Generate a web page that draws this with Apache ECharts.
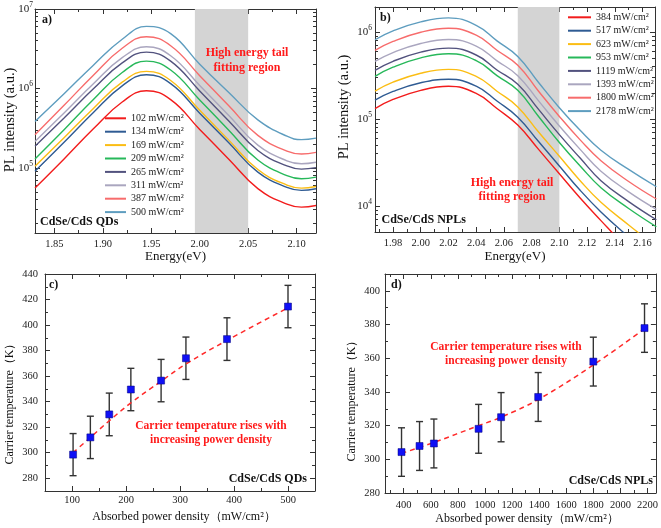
<!DOCTYPE html>
<html>
<head>
<meta charset="utf-8">
<script src="https://cdn.jsdelivr.net/npm/echarts@6/dist/echarts.min.js"></script>
<style>
html,body{margin:0;padding:0;background:#fff;}
#chart{width:661px;height:528px;}
</style>
</head>
<body>
<div id="chart"></div>
<script>
// ---------- Panel a: CdSe/CdS QDs PL spectra ----------
const qdEnergy = [1.83, 1.86, 1.89, 1.92, 1.945, 1.97, 2.00, 2.03, 2.06, 2.09, 2.105, 2.12];
const qdNames = ['102 mW/cm²', '134 mW/cm²', '169 mW/cm²', '209 mW/cm²', '265 mW/cm²', '311 mW/cm²', '387 mW/cm²', '500 mW/cm²'];
const qdPL102 = [5.60e4, 1.30e5, 3.09e5, 6.76e5, 9.38e5, 7.24e5, 3.05e5, 1.29e5, 5.50e4, 3.51e4, 3.22e4, 3.37e4];
const qdPL134 = [9.08e4, 2.10e5, 4.95e5, 1.08e6, 1.49e6, 1.15e6, 4.89e5, 2.07e5, 8.87e4, 5.69e4, 5.22e4, 5.47e4];
const qdPL169 = [1.05e5, 2.40e5, 5.57e5, 1.20e6, 1.64e6, 1.26e6, 5.32e5, 2.24e5, 9.55e4, 6.08e4, 5.58e4, 5.85e4];
const qdPL209 = [1.30e5, 3.03e5, 7.23e5, 1.59e6, 2.21e6, 1.71e6, 7.16e5, 2.99e5, 1.26e5, 8.00e4, 7.31e4, 7.66e4];
const qdPL265 = [1.87e5, 4.26e5, 9.84e5, 2.10e6, 2.87e6, 2.21e6, 9.31e5, 3.91e5, 1.66e5, 1.06e5, 9.68e4, 1.01e5];
const qdPL311 = [2.16e5, 4.93e5, 1.14e6, 2.44e6, 3.35e6, 2.58e6, 1.09e6, 4.57e5, 1.94e5, 1.23e5, 1.13e5, 1.18e5];
const qdPL387 = [2.62e5, 6.14e5, 1.46e6, 3.21e6, 4.48e6, 3.45e6, 1.45e6, 6.05e5, 2.57e5, 1.63e5, 1.50e5, 1.57e5];
const qdPL500 = [3.85e5, 8.57e5, 1.95e6, 4.17e6, 6.05e6, 4.90e6, 2.02e6, 8.91e5, 4.03e5, 2.51e5, 2.27e5, 2.37e5];
const qdShade = [1.995, 2.05];
const qdXTicks = [1.85, 1.90, 1.95, 2.00, 2.05, 2.10];
const qdXMinor = [1.875, 1.925, 1.975, 2.025, 2.075];
const qdYTicks = [1e5, 1e6, 1e7];
const qdYMinor = [2e4, 3e4, 4e4, 5e4, 6e4, 7e4, 8e4, 9e4, 2e5, 3e5, 4e5, 5e5, 6e5, 7e5, 8e5, 9e5, 2e6, 3e6, 4e6, 5e6, 6e6, 7e6, 8e6, 9e6];

// ---------- Panel b: CdSe/CdS NPLs PL spectra ----------
const nplEnergy = [1.967, 1.98, 2.00, 2.02, 2.04, 2.055, 2.07, 2.085, 2.10, 2.115, 2.13, 2.15, 2.17];
const nplNames = ['384 mW/cm²', '517 mW/cm²', '623 mW/cm²', '953 mW/cm²', '1119 mW/cm²', '1393 mW/cm²', '1800 mW/cm²', '2178 mW/cm²'];
const nplPL384 = [1.32e5, 1.68e5, 2.14e5, 2.38e5, 1.97e5, 1.32e5, 8.51e4, 4.47e4, 2.34e4, 1.23e4, 6.76e3, 3.09e3, 1.45e3];
const nplPL517 = [1.65e5, 2.08e5, 2.62e5, 2.87e5, 2.39e5, 1.61e5, 1.05e5, 5.50e4, 2.88e4, 1.51e4, 8.51e3, 4.37e3, 2.29e3];
const nplPL623 = [2.10e5, 2.66e5, 3.37e5, 3.73e5, 3.10e5, 2.09e5, 1.38e5, 7.08e4, 3.72e4, 1.95e4, 1.10e4, 6.03e3, 3.39e3];
const nplPL953 = [3.10e5, 3.95e5, 5.06e5, 5.65e5, 4.71e5, 3.16e5, 2.14e5, 1.07e5, 5.37e4, 2.88e4, 1.62e4, 9.33e3, 5.75e3];
const nplPL1119 = [3.64e5, 4.62e5, 5.89e5, 6.56e5, 5.46e5, 3.67e5, 2.51e5, 1.29e5, 6.61e4, 3.55e4, 1.95e4, 1.12e4, 6.92e3];
const nplPL1393 = [4.61e5, 5.83e5, 7.41e5, 8.24e5, 6.92e5, 4.68e5, 3.16e5, 1.62e5, 8.32e4, 4.47e4, 2.51e4, 1.45e4, 9.12e3];
const nplPL1800 = [6.17e5, 7.83e5, 9.98e5, 1.11e6, 9.23e5, 6.19e5, 4.17e5, 2.09e5, 1.07e5, 5.75e4, 3.31e4, 1.91e4, 1.20e4];
const nplPL2178 = [8.18e5, 1.035e6, 1.315e6, 1.462e6, 1.20e6, 7.94e5, 5.25e5, 2.63e5, 1.35e5, 7.41e4, 4.37e4, 2.63e4, 1.66e4];
const nplShade = [2.07, 2.10];
const nplXTicks = [1.98, 2.00, 2.02, 2.04, 2.06, 2.08, 2.10, 2.12, 2.14, 2.16];
const nplXMinor = [1.97, 1.99, 2.01, 2.03, 2.05, 2.07, 2.09, 2.11, 2.13, 2.15, 2.17];
const nplYTicks = [1e4, 1e5, 1e6];
const nplYMinor = [6e3, 7e3, 8e3, 9e3, 2e4, 3e4, 4e4, 5e4, 6e4, 7e4, 8e4, 9e4, 2e5, 3e5, 4e5, 5e5, 6e5, 7e5, 8e5, 9e5];

// ---------- Panel c: QDs carrier temperature ----------
const cPower = [102, 134, 169, 209, 265, 311, 387, 500];
const cTemp = [298.5, 312, 330, 349.5, 356.5, 374, 389, 414.5];
const cErr = [16.5, 16.6, 16.7, 16.6, 16.6, 16.6, 16.7, 16.6];
const cFitPower = [102, 134, 169, 209, 265, 311, 387, 500];
const cFitTemp = [300, 312, 325, 339, 356, 369.5, 388, 413.5];
const cXTicks = [100, 200, 300, 400, 500];
const cXMinor = [50, 150, 250, 350, 450, 550];
const cYTicks = [280, 300, 320, 340, 360, 380, 400, 420, 440];
const cYMinor = [270, 290, 310, 330, 350, 370, 390, 410, 430];

// ---------- Panel d: NPLs carrier temperature ----------
const dPower = [384, 517, 623, 953, 1119, 1393, 1800, 2178];
const dTemp = [304.3, 307.9, 309.4, 318.1, 325, 337, 358, 377.9];
const dErr = [14.4, 14.5, 14.5, 14.5, 14.6, 14.5, 14.5, 14.4];
const dFitPower = [384, 623, 953, 1119, 1393, 1800, 2178];
const dFitTemp = [303.5, 310, 320, 325, 335.5, 356, 377.5];
const dXTicks = [400, 600, 800, 1000, 1200, 1400, 1600, 1800, 2000, 2200];
const dXMinor = [300, 500, 700, 900, 1100, 1300, 1500, 1700, 1900, 2100];
const dYTicks = [280, 300, 320, 340, 360, 380, 400];
const dYMinor = [290, 310, 330, 350, 370, 390, 410];

const lineColors = ['#f21c1c', '#2f5b93', '#fbbd14', '#27b85a', '#52527e', '#aaa6bf', '#f76c6c', '#5e9dbf'];

// ---------- build ----------
const FONT = "'Liberation Serif', 'Times New Roman', serif";
const AX = '#333';

function axisSet(kind, gridIndex, type, min, max, majors, minors, label) {
  const pos = kind === 'x' ? ['bottom', 'top'] : ['left', 'right'];
  const out = [];
  [0, 1].forEach(side => {
    [true, false].forEach(isMajor => {
      const a = {
        type: type, gridIndex: gridIndex, min: min, max: max, position: pos[side],
        splitLine: { show: false },
        axisLine: { show: isMajor, onZero: false, lineStyle: { color: AX, width: 1 } },
        axisTick: { show: true, inside: true, length: isMajor ? 5 : 3, customValues: isMajor ? majors : minors, lineStyle: { color: AX, width: 1 } },
        axisLabel: { show: false }
      };
      if (type === 'log') a.logBase = 10;
      if (side === 0 && isMajor) {
        a.axisLabel = Object.assign({ show: true, customValues: majors, color: '#222', fontFamily: FONT, fontSize: 10.5, formatter: v => String(v) }, label);
      }
      out.push(a);
    });
  });
  return out;
}

const logLabel = {
  formatter: v => '{b|10}{s|' + Math.round(Math.log10(v)) + '}',
  rich: {
    b: { fontFamily: FONT, fontSize: 11, color: '#222', lineHeight: 16 },
    s: { fontFamily: FONT, fontSize: 7.5, color: '#222', verticalAlign: 'top', lineHeight: 8 }
  }
};

const xAxes = [].concat(
  axisSet('x', 0, 'value', 1.83, 2.12, qdXTicks, qdXMinor, { margin: 6, formatter: v => v.toFixed(2) }),
  axisSet('x', 1, 'value', 1.967, 2.169, nplXTicks, nplXMinor, { margin: 6, formatter: v => v.toFixed(2) }),
  axisSet('x', 2, 'value', 50, 550, cXTicks, cXMinor, { margin: 4 }),
  axisSet('x', 3, 'value', 262, 2262, dXTicks, dXMinor, { margin: 7 })
);
const yAxes = [].concat(
  axisSet('y', 0, 'log', 1.52e4, 1e7, qdYTicks, qdYMinor, Object.assign({ margin: 2 }, logLabel)),
  axisSet('y', 1, 'log', 5000, 1.95e6, nplYTicks, nplYMinor, Object.assign({ margin: 3 }, logLabel)),
  axisSet('y', 2, 'value', 270, 440, cYTicks, cYMinor, { margin: 7 }),
  axisSet('y', 3, 'value', 280, 410, dYTicks, dYMinor, { margin: 5 })
);

const series = [];
// shaded fitting regions
[[0, qdShade, qdEnergy[4], qdPL102[4]], [1, nplShade, nplEnergy[3], nplPL384[3]]].forEach(([p, sh, x0, y0]) => {
  series.push({
    type: 'line', xAxisIndex: 4 * p, yAxisIndex: 4 * p, data: [[x0, y0]], symbol: 'none',
    lineStyle: { opacity: 0 }, silent: true, z: 1,
    markArea: { silent: true, itemStyle: { color: '#d4d4d4', opacity: 1 }, data: [[{ xAxis: sh[0] }, { xAxis: sh[1] }]] }
  });
});

const qdSets = [qdPL102, qdPL134, qdPL169, qdPL209, qdPL265, qdPL311, qdPL387, qdPL500];
qdSets.forEach((arr, i) => {
  series.push({
    type: 'line', name: qdNames[i], xAxisIndex: 0, yAxisIndex: 0,
    data: qdEnergy.map((e, k) => [e, arr[k]]), smooth: 0.45, symbol: 'none',
    lineStyle: { width: 1.4, color: lineColors[i] }, itemStyle: { color: lineColors[i] }, z: 3
  });
});
const nplSets = [nplPL384, nplPL517, nplPL623, nplPL953, nplPL1119, nplPL1393, nplPL1800, nplPL2178];
nplSets.forEach((arr, i) => {
  series.push({
    type: 'line', name: nplNames[i], xAxisIndex: 4, yAxisIndex: 4,
    data: nplEnergy.map((e, k) => [e, arr[k]]), smooth: 0.45, symbol: 'none', clip: true,
    lineStyle: { width: 1.4, color: lineColors[i] }, itemStyle: { color: lineColors[i] }, z: 3
  });
});

function errorBarSeries(axIdx, xs, ys, errs) {
  return {
    type: 'custom', xAxisIndex: axIdx, yAxisIndex: axIdx, z: 2, silent: true,
    data: xs.map((x, i) => [x, ys[i] - errs[i], ys[i] + errs[i]]),
    encode: { x: 0, y: [1, 2] },
    renderItem: (params, api) => {
      const x = api.value(0);
      const lo = api.coord([x, api.value(1)]);
      const hi = api.coord([x, api.value(2)]);
      const st = { stroke: '#333', lineWidth: 1.4 };
      const hw = 3.5;
      return {
        type: 'group', children: [
          { type: 'line', shape: { x1: hi[0], y1: hi[1], x2: lo[0], y2: lo[1] }, style: st },
          { type: 'line', shape: { x1: hi[0] - hw, y1: hi[1], x2: hi[0] + hw, y2: hi[1] }, style: st },
          { type: 'line', shape: { x1: lo[0] - hw, y1: lo[1], x2: lo[0] + hw, y2: lo[1] }, style: st }
        ]
      };
    }
  };
}
function fitSeries(axIdx, xs, ys) {
  return {
    type: 'line', xAxisIndex: axIdx, yAxisIndex: axIdx, z: 3, silent: true,
    data: xs.map((x, i) => [x, ys[i]]), smooth: 0.4, symbol: 'none',
    lineStyle: { color: '#ff2a2a', width: 1.5, type: [5, 4] }
  };
}
function pointSeries(axIdx, xs, ys) {
  return {
    type: 'scatter', xAxisIndex: axIdx, yAxisIndex: axIdx, z: 4, silent: true,
    data: xs.map((x, i) => [x, ys[i]]), symbol: 'rect', symbolSize: 7,
    itemStyle: { color: '#1010f5', borderColor: '#00007a', borderWidth: 0.5, opacity: 1 }
  };
}
series.push(errorBarSeries(8, cPower, cTemp, cErr), fitSeries(8, cFitPower, cFitTemp), pointSeries(8, cPower, cTemp));
series.push(errorBarSeries(12, dPower, dTemp, dErr), fitSeries(12, dFitPower, dFitTemp), pointSeries(12, dPower, dTemp));

function txt(x, y, text, font, opts) {
  return Object.assign({
    type: 'text', x: x, y: y, silent: true, z: 10,
    style: Object.assign({ text: text, font: font, fill: '#111', align: 'center', verticalAlign: 'middle' }, (opts && opts.style) || {})
  }, (opts && opts.el) || {});
}
const B12 = "bold 12px " + FONT;
const RED = '#ff1a1a';
const graphics = [
  txt(42, 20, 'a)', B12, { style: { align: 'left' } }),
  txt(380, 18, 'b)', B12, { style: { align: 'left' } }),
  txt(49, 285, 'c)', B12, { style: { align: 'left' } }),
  txt(391, 285, 'd)', B12, { style: { align: 'left' } }),
  txt(40, 221.7, 'CdSe/CdS QDs', B12, { style: { align: 'left' } }),
  txt(381.5, 220, 'CdSe/CdS NPLs', B12, { style: { align: 'left' } }),
  txt(307, 479, 'CdSe/CdS QDs', B12, { style: { align: 'right' } }),
  txt(653, 481, 'CdSe/CdS NPLs', B12, { style: { align: 'right' } }),
  txt(247, 53.3, 'High energy tail', B12, { style: { fill: RED } }),
  txt(247, 68.3, 'fitting region', B12, { style: { fill: RED } }),
  txt(512, 182.7, 'High energy tail', B12, { style: { fill: RED } }),
  txt(512, 197.3, 'fitting region', B12, { style: { fill: RED } }),
  txt(211, 425.7, 'Carrier temperature rises with', "bold 11.5px " + FONT, { style: { fill: RED } }),
  txt(211, 440, 'increasing power density', "bold 11.5px " + FONT, { style: { fill: RED } }),
  txt(506, 346.7, 'Carrier temperature rises with', "bold 11.5px " + FONT, { style: { fill: RED } }),
  txt(506, 360.7, 'increasing power density', "bold 11.5px " + FONT, { style: { fill: RED } }),
  // axis titles
  txt(175.5, 257, 'Energy(eV)', "13px " + FONT),
  txt(515, 257, 'Energy(eV)', "13px " + FONT),
  txt(184, 517, 'Absorbed power density（mW/cm²）', "12px " + FONT),
  txt(527, 519, 'Absorbed power density（mW/cm²）', "12px " + FONT),
  txt(10, 120, 'PL intensity (a.u.)', "14.5px " + FONT, { el: { rotation: Math.PI / 2 } }),
  txt(344, 107, 'PL intensity (a.u.)', "14.5px " + FONT, { el: { rotation: Math.PI / 2 } }),
  txt(10, 401, 'Carrier temperature（K）', "12px " + FONT, { el: { rotation: Math.PI / 2 } }),
  txt(352, 398, 'Carrier temperature（K）', "12px " + FONT, { el: { rotation: Math.PI / 2 } })
];

const legendText = { fontFamily: FONT, fontSize: 10, color: '#222', lineHeight: 13.4 };
const option = {
  animation: false,
  backgroundColor: '#ffffff',
  grid: [
    { left: 35, top: 9, width: 281, height: 224 },
    { left: 375, top: 7, width: 280, height: 225 },
    { left: 45, top: 274, width: 270, height: 217 },
    { left: 385, top: 274, width: 273.5, height: 219 }
  ],
  xAxis: xAxes,
  yAxis: yAxes,
  legend: [
    { data: qdNames, orient: 'vertical', left: 105, top: 111.6, padding: 0, itemGap: 0, itemWidth: 21, itemHeight: 2, icon: 'rect', selectedMode: false, textStyle: legendText },
    { data: nplNames, orient: 'vertical', left: 568, top: 10.6, padding: 0, itemGap: 0, itemWidth: 23, itemHeight: 2, icon: 'rect', selectedMode: false, textStyle: legendText }
  ],
  graphic: graphics,
  series: series
};
const chart = echarts.init(document.getElementById('chart'), null, { renderer: 'canvas' });
chart.setOption(option);
</script>
</body>
</html>
